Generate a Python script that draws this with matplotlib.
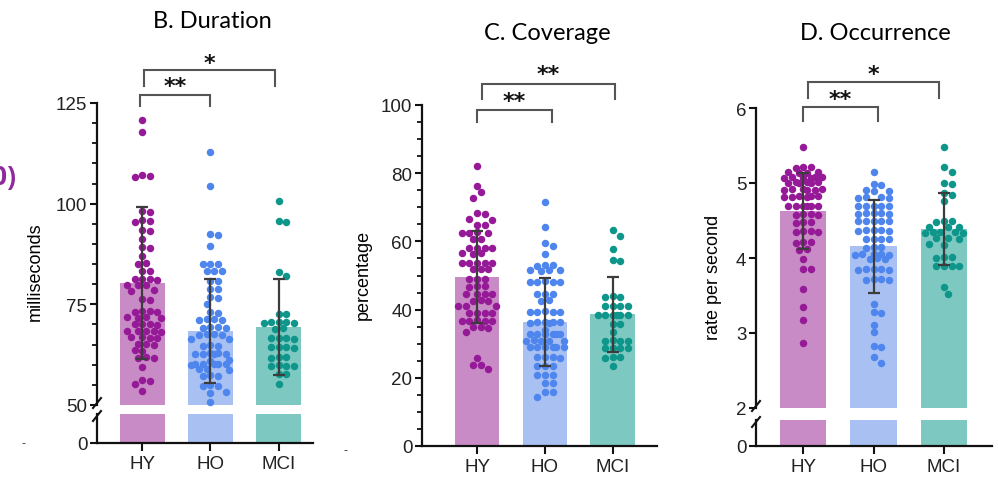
import matplotlib
matplotlib.use('Agg')
import matplotlib.pyplot as plt
from matplotlib.lines import Line2D
import numpy as np

W, H = 998, 485

groups = ['HY', 'HO', 'MCI']

# B. Duration (milliseconds)
dur_mean = [80.3, 68.4, 69.3]
dur_sd = [18.8, 12.9, 11.9]
dur_hy = [120.8, 117.7, 107.2, 106.9, 106.6, 98.3, 97.9, 95.9, 95.7, 95.5,
          93.4, 93.2, 91.2, 89.2, 89.0, 87.0, 85.3, 85.1, 83.4, 83.2, 81.4,
          81.3, 81.2, 81.1, 79.9, 79.8, 79.7, 78.5, 78.3, 76.4, 76.2, 73.4,
          73.3, 73.2, 73.1, 71.9, 71.8, 71.7, 71.6, 70.1, 70.0, 70.0, 69.9,
          68.5, 68.4, 68.4, 68.3, 68.2, 66.9, 66.8, 66.7, 66.6, 65.2, 65.1,
          65.0, 63.6, 63.4, 61.8, 61.7, 61.6, 59.4, 56.1, 55.9, 55.2, 53.5]
dur_ho = [112.9, 104.3, 92.4, 92.2, 89.4, 85.1, 85.0, 84.9, 83.4, 83.3, 83.2,
          80.9, 80.7, 78.9, 78.7, 76.8, 76.6, 75.1, 73.1, 72.9, 71.4, 71.3,
          71.2, 71.1, 69.4, 69.3, 69.2, 69.1, 67.7, 67.6, 67.5, 67.4, 66.5,
          66.3, 64.8, 64.7, 64.6, 62.8, 62.8, 62.7, 62.7, 62.6, 62.6, 61.2,
          61.0, 60.3, 60.2, 60.2, 60.1, 60.1, 60.0, 59.0, 58.9, 58.8, 57.4,
          57.3, 57.2, 54.9, 54.8, 54.7, 53.3, 53.1, 50.7]
dur_mci = [100.7, 95.7, 95.5, 83.0, 82.0, 72.7, 72.5, 70.6, 70.5, 70.5, 70.4,
           70.4, 69.0, 68.8, 66.7, 66.6, 66.6, 66.5, 64.4, 64.3, 64.3, 64.2,
           61.9, 61.8, 61.7, 59.9, 59.8, 59.8, 59.7, 57.8, 57.6, 55.2]

# C. Coverage (percentage)
cov_mean = [49.6, 36.4, 38.7]
cov_sd = [13.5, 13.0, 11.0]
cov_hy = [82.2, 76.3, 74.4, 72.6, 68.3, 68.1, 66.5, 66.3, 64.9, 64.7, 62.7,
          62.6, 62.6, 62.5, 60.8, 60.6, 58.2, 58.1, 58.1, 58.0, 56.6, 56.5,
          56.4, 53.8, 53.7, 53.7, 53.6, 53.6, 52.0, 51.9, 51.8, 49.1, 49.0,
          48.9, 46.9, 46.8, 46.7, 44.7, 44.6, 44.6, 44.5, 42.7, 42.6, 42.5,
          41.2, 41.1, 41.0, 39.1, 39.0, 39.0, 38.9, 36.9, 36.8, 36.8, 36.7,
          36.7, 34.9, 34.8, 34.7, 33.4, 25.8, 23.9, 23.7, 22.6]
cov_ho = [71.5, 64.3, 59.5, 58.6, 56.3, 53.1, 53.0, 52.9, 51.6, 51.5, 51.5,
          51.4, 48.3, 48.2, 48.2, 48.1, 48.1, 44.7, 44.6, 44.5, 42.7, 42.5,
          39.5, 39.4, 39.4, 39.3, 39.3, 36.4, 36.3, 36.3, 36.3, 36.2, 36.2,
          34.0, 32.9, 32.8, 32.8, 32.8, 32.7, 32.7, 31.0, 30.9, 30.9, 30.8,
          30.8, 29.1, 29.0, 29.0, 29.0, 28.9, 28.9, 26.1, 26.0, 26.0, 25.9,
          23.6, 23.5, 23.4, 20.9, 20.8, 20.7, 18.6, 18.4, 15.9, 15.7, 14.4]
cov_mci = [63.2, 61.7, 57.8, 54.4, 54.2, 43.9, 43.8, 43.7, 41.2, 41.1, 41.1,
           41.0, 38.5, 38.4, 38.4, 38.4, 38.3, 38.3, 35.9, 35.7, 33.3, 31.0,
           30.9, 30.9, 30.8, 28.8, 28.7, 28.7, 28.6, 26.1, 26.0, 25.9, 23.5]

# D. Occurrence (rate per second)
occ_mean = [4.63, 4.16, 4.39]
occ_sd = [0.51, 0.62, 0.48]
occ_hy = [5.48, 5.22, 5.21, 5.20, 5.15, 5.15, 5.14, 5.14, 5.08, 5.08, 5.08,
          5.07, 5.07, 5.07, 5.01, 5.01, 5.01, 5.00, 5.00, 5.00, 4.92, 4.92,
          4.92, 4.91, 4.91, 4.91, 4.83, 4.83, 4.83, 4.82, 4.82, 4.82, 4.70,
          4.70, 4.70, 4.69, 4.69, 4.69, 4.59, 4.59, 4.58, 4.58, 4.48, 4.48,
          4.47, 4.36, 4.36, 4.35, 4.35, 4.21, 4.21, 4.20, 4.12, 4.11, 3.99,
          3.86, 3.85, 3.59, 3.35, 3.17, 2.87]
occ_ho = [5.15, 4.99, 4.98, 4.91, 4.90, 4.89, 4.81, 4.81, 4.80, 4.80, 4.70,
          4.70, 4.70, 4.69, 4.69, 4.60, 4.60, 4.60, 4.59, 4.59, 4.50, 4.50,
          4.50, 4.49, 4.49, 4.37, 4.37, 4.37, 4.36, 4.36, 4.26, 4.26, 4.25,
          4.25, 4.15, 4.15, 4.14, 4.05, 4.05, 4.05, 4.04, 4.04, 4.00, 3.99,
          3.99, 3.85, 3.85, 3.85, 3.84, 3.84, 3.72, 3.72, 3.71, 3.71, 3.39,
          3.28, 3.27, 3.11, 3.01, 2.83, 2.82, 2.68, 2.60]
occ_mci = [5.48, 5.21, 5.15, 5.00, 4.99, 4.87, 4.84, 4.76, 4.49, 4.49, 4.48,
           4.42, 4.42, 4.41, 4.35, 4.35, 4.35, 4.34, 4.34, 4.27, 4.27, 4.26,
           4.19, 4.18, 4.01, 4.01, 4.00, 3.90, 3.90, 3.89, 3.89, 3.61, 3.52]

dot_colors = ['#961a98', '#4f86ee', '#0e968b']
bar_colors = ['#c88bc5', '#a8c1f2', '#7dc8c1']
err_color = '#3c3c3c'

plt.rcParams['font.family'] = ['Liberation Sans', 'DejaVu Sans']
TITLE_FONT = ['Lato', 'DejaVu Sans']

fig = plt.figure(figsize=(W / 100, H / 100), dpi=100)


def px_rect(l, t, r, b):
    return [l / W, 1 - b / H, (r - l) / W, (b - t) / H]


def swarm(ax, x0, values, d, max_half=20):
    # beeswarm in pixel space, kept inside the bar width
    pts = []
    order = np.argsort(values)[::-1]
    xs = np.zeros(len(values))
    cands = [0.0]
    step = d * 0.5
    k = 1
    while k * step <= max_half:
        cands += [k * step, -k * step]
        k += 1
    for i in order:
        px, py = ax.transData.transform((x0, values[i]))
        best, best_gap = None, -1
        for off in cands:
            cx = px + off
            gap = min([np.hypot(cx - qx, py - qy) for qx, qy in pts] or [99])
            if gap >= d * 0.95:
                best = cx
                break
            if gap > best_gap:
                best, best_gap = cx, gap
        pts.append((best, py))
        xs[i] = ax.transData.inverted().transform((best, py))[0]
    return xs


def style_axis(ax):
    for s in ['top', 'right']:
        ax.spines[s].set_visible(False)
    for s in ['left', 'bottom']:
        ax.spines[s].set_linewidth(1.6)
        ax.spines[s].set_color('#111111')
    ax.tick_params(axis='both', which='major', length=5, width=1.5,
                   labelsize=13.5, colors='#111111', labelcolor='#222222', pad=2)
    ax.tick_params(axis='y', which='minor', length=3.5, width=1.3, colors='#111111')


def draw_panel(ax_up, ax_lo, means, sds, data, xlim, d=7.6):
    x = np.arange(3)
    for ax in [a for a in (ax_up, ax_lo) if a is not None]:
        ax.bar(x, means, width=0.66, color=bar_colors, zorder=1)
        ax.set_xlim(*xlim)
        style_axis(ax)
    ax_up.errorbar(x, means, yerr=sds, fmt='none', ecolor=err_color,
                   elinewidth=1.6, capsize=4.5, capthick=1.6, zorder=4)
    for i, vals in enumerate(data):
        xs = swarm(ax_up, i, vals, d)
        ax_up.scatter(xs, vals, s=29, color=dot_colors[i], linewidths=0,
                      zorder=3, clip_on=False)
    bottom = ax_lo if ax_lo is not None else ax_up
    bottom.set_xticks(x)
    bottom.set_xticklabels(groups)
    bottom.tick_params(axis='x', length=6, pad=3)
    if ax_lo is not None:
        ax_up.spines['bottom'].set_visible(False)
        ax_up.set_xticks([])
        ax_lo.set_yticks([0])


def bracket(ax, x1, x2, y, ydrop1, ydrop2, label, ylab):
    ax.plot([x1, x1, x2, x2], [ydrop1, y, y, ydrop2], color='#555555', lw=1.5,
            clip_on=False, solid_joinstyle='miter')
    ax.text((x1 + x2) / 2, ylab, label, ha='center', va='center', fontsize=16,
            fontweight='bold', color='#111111', clip_on=False,
            family=['DejaVu Sans'])


def break_marks(x, y1, y2):
    for y in (y1, y2):
        fig.add_artist(Line2D([(x - 4) / W, (x + 4) / W], [1 - (y + 5) / H, 1 - (y - 5) / H],
                              color='#111111', lw=1.5))


def fig_text(x, y, s, **kw):
    return fig.text(x / W, 1 - y / H, s, **kw)


# B. Duration
bu = fig.add_axes(px_rect(97, 104, 313, 406))
bl = fig.add_axes(px_rect(97, 415, 313, 444))
bu.set_ylim(50, 125)
bl.set_ylim(0, 10)
bu.set_yticks([50, 75, 100, 125])
bu.set_yticks(np.arange(50, 126, 5), minor=True)
draw_panel(bu, bl, dur_mean, dur_sd, [dur_hy, dur_ho, dur_mci], (-0.66, 2.5))
bracket(bu, -0.03, 1.0, 127.0, 124.3, 124.3, '**', 129.3)
bracket(bu, 0.03, 1.95, 133.2, 129.2, 129.2, '*', 135.0)
break_marks(97, 404, 417)
fig_text(212, 21, 'B. Duration', fontsize=17, family=TITLE_FONT, ha='center', va='center')
fig_text(35, 272, 'milliseconds', fontsize=13, rotation=90, ha='center', va='center')

# C. Coverage
c = fig.add_axes(px_rect(422, 106, 657, 447))
c.set_ylim(0, 100)
c.set_yticks([0, 20, 40, 60, 80, 100])
c.set_yticks(np.arange(0, 101, 5), minor=True)
draw_panel(c, None, cov_mean, cov_sd, [cov_hy, cov_ho, cov_mci], (-0.81, 2.65))
bracket(c, 0.0, 1.1, 98.5, 95.0, 95.0, '**', 101.2)
bracket(c, 0.07, 2.03, 106.2, 101.8, 101.8, '**', 109.0)
fig_text(547, 33, 'C. Coverage', fontsize=17, family=TITLE_FONT, ha='center', va='center')
fig_text(363, 275, 'percentage', fontsize=13, rotation=90, ha='center', va='center')

# D. Occurrence
du = fig.add_axes(px_rect(756, 109, 992, 409))
dl = fig.add_axes(px_rect(756, 421, 992, 447))
du.set_ylim(2, 6)
dl.set_ylim(0, 1)
du.set_yticks([2, 3, 4, 5, 6])
draw_panel(du, dl, occ_mean, occ_sd, [occ_hy, occ_ho, occ_mci], (-0.67, 2.68))
bracket(du, 0.0, 1.06, 6.013, 5.83, 5.83, '**', 6.12)
bracket(du, 0.07, 1.93, 6.35, 6.13, 6.13, '*', 6.45)
break_marks(756, 407, 423)
fig_text(875, 33, 'D. Occurrence', fontsize=17, family=TITLE_FONT, ha='center', va='center')
fig_text(713, 277, 'rate per second', fontsize=13, rotation=90, ha='center', va='center')

# cropped fragments at the left edge
fig_text(-8, 177, '0)', fontsize=19, color='#8e2a9c', fontweight='bold',
         ha='left', va='center', family=['Open Sans', 'DejaVu Sans'])
fig_text(23, 444, '-', fontsize=9, color='#333333', ha='center', va='center')
fig_text(345, 451, '-', fontsize=9, color='#333333', ha='center', va='center')

fig.savefig('out.png', dpi=100)
